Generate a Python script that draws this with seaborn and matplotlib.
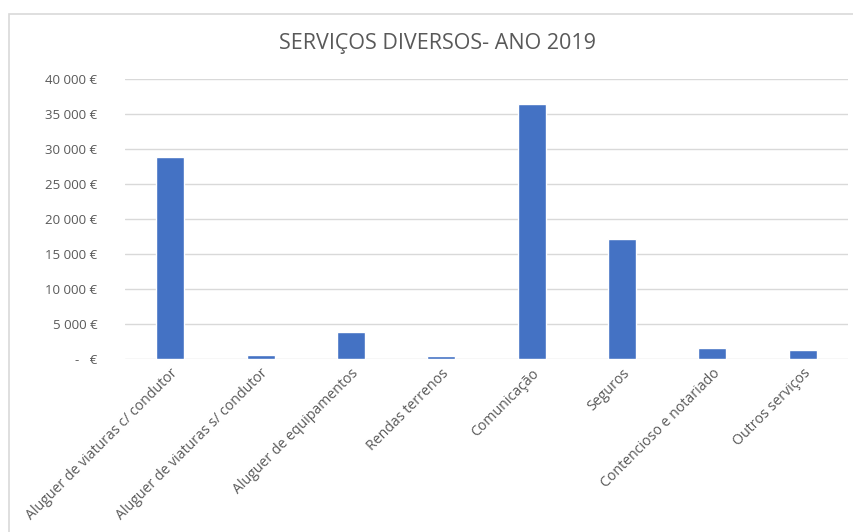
import matplotlib
matplotlib.use("Agg")
import matplotlib.pyplot as plt
from matplotlib.patches import Rectangle
from matplotlib.ticker import FuncFormatter
import seaborn as sns
import pandas as pd

categorias = [
    "Aluguer de viaturas c/ condutor",
    "Aluguer de viaturas s/ condutor",
    "Aluguer de equipamentos",
    "Rendas terrenos",
    "Comunicação",
    "Seguros",
    "Contencioso e notariado",
    "Outros serviços",
]
valores = [28900, 600, 3900, 400, 36500, 17200, 1550, 1300]
titulo = "SERVIÇOS DIVERSOS- ANO 2019"

sns.set_theme(style="white")
plt.rcParams["font.family"] = ["Open Sans", "DejaVu Sans"]

df = pd.DataFrame({"categoria": categorias, "valor": valores})

fig = plt.figure(figsize=(8.54, 5.32), dpi=100)
ax = fig.add_axes([125 / 854, 1 - 359 / 532, 723 / 854, 280 / 532])

sns.barplot(data=df, x="categoria", y="valor", color="#4472C4",
            width=0.31, saturation=1, ax=ax, zorder=3)

ax.set_ylim(0, 40000)
ax.set_yticks(range(0, 40001, 5000))
ax.set_xlim(-0.5, len(categorias) - 0.5)


def euro(v, _):
    if v == 0:
        return "-   €"
    return f"{int(v):,}".replace(",", " ") + " €"


ax.yaxis.set_major_formatter(FuncFormatter(euro))
ax.grid(axis="y", color="#d9d9d9", linewidth=1, zorder=0)
for s in ax.spines.values():
    s.set_visible(False)
ax.tick_params(axis="both", length=0, colors="#595959")
ax.tick_params(axis="y", labelsize=9.5, pad=20)
ax.set_xlabel("")
ax.set_ylabel("")

ax.set_xticks(range(len(categorias)))
ax.set_xticklabels(categorias, rotation=45, ha="right", va="top",
                   rotation_mode="anchor", fontsize=10.2)
ax.tick_params(axis="x", pad=5)
for lbl in ax.get_xticklabels():
    lbl.set_color("#595959")

fig.text(438 / 854, 1 - 44 / 532, titulo, ha="center", va="center",
         fontsize=15.5, color="#595959")

fig.patches.append(Rectangle((9 / 854, -0.05), 1.0, 1 - 14 / 532 + 0.05,
                             transform=fig.transFigure, fill=False,
                             edgecolor="#d9d9d9", linewidth=1.2))

fig.savefig("out.png", dpi=100)
